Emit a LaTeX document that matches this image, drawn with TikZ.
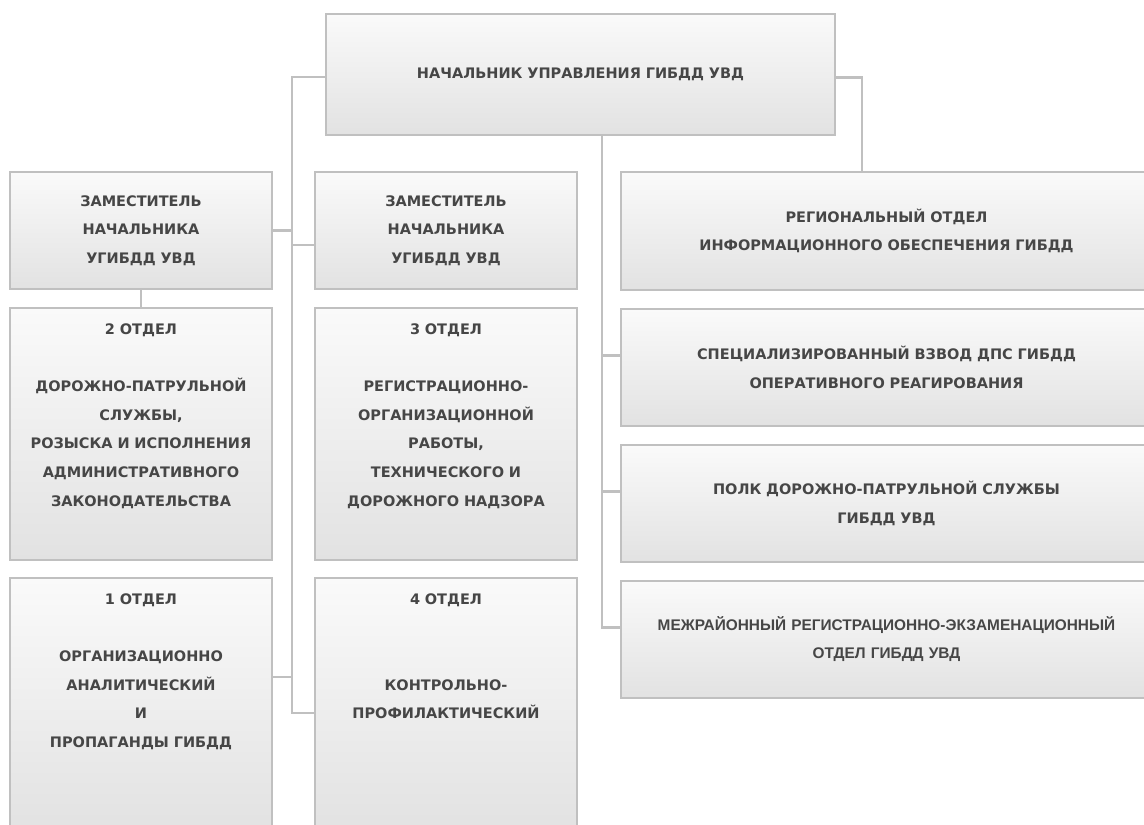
\documentclass[tikz,border=0pt]{standalone}
\usepackage{fontspec}
\setmainfont{DejaVu Sans}
\newfontfamily\arialfont{Liberation Sans Bold}
\usetikzlibrary{positioning}
\usetikzlibrary{calc}
\definecolor{boxtop}{RGB}{250,250,250}
\definecolor{boxbot}{RGB}{226,226,226}
\definecolor{edge}{RGB}{192,192,192}
\definecolor{ink}{RGB}{70,70,70}
\tikzset{
  deptbox/.style={rectangle, draw=edge, line width=2.6pt, top color=boxtop, bottom color=boxbot,
    outer sep=0pt, inner sep=4pt, text=ink, align=center, font=\bfseries\fontsize{14.5}{28.6}\selectfont},
  tallbox/.style={deptbox, minimum width=262pt, text width=254pt, inner ysep=0pt,
    text height=26.5pt, text depth=225.5pt},
  link/.style={draw=edge, line width=2.4pt}
}

\begin{document}
\begin{tikzpicture}
        \useasboundingbox (0,0) rectangle (1144pt,-825pt);
        \fill[white] (0,0) rectangle (1144pt,-825pt);
        \clip (0,0) rectangle (1144pt,-825pt);

        % nodes %
        \node[deptbox, minimum width=509pt, minimum height=121pt, text width=490pt] (chief) at (580.5pt,-74.5pt) {НАЧАЛЬНИК УПРАВЛЕНИЯ ГИБДД УВД};

        \node[deptbox, minimum width=262pt, minimum height=117pt, text width=254pt, anchor=north west] (dep1) at (10pt,-172pt) {ЗАМЕСТИТЕЛЬ\\НАЧАЛЬНИКА\\УГИБДД УВД};
        \node[tallbox, below=19pt of dep1] (otd2) {2 ОТДЕЛ\\[28.6pt]ДОРОЖНО-ПАТРУЛЬНОЙ\\СЛУЖБЫ,\\РОЗЫСКА И ИСПОЛНЕНИЯ\\АДМИНИСТРАТИВНОГО\\ЗАКОНОДАТЕЛЬСТВА};
        \node[tallbox, below=18pt of otd2] (otd1) {1 ОТДЕЛ\\[28.6pt]ОРГАНИЗАЦИОННО\\АНАЛИТИЧЕСКИЙ\\И\\ПРОПАГАНДЫ ГИБДД};

        \node[deptbox, minimum width=262pt, minimum height=117pt, text width=254pt, right=43pt of dep1] (dep2) {ЗАМЕСТИТЕЛЬ\\НАЧАЛЬНИКА\\УГИБДД УВД};
        \node[tallbox, below=19pt of dep2] (otd3) {3 ОТДЕЛ\\[28.6pt]РЕГИСТРАЦИОННО-\\ОРГАНИЗАЦИОННОЙ\\РАБОТЫ,\\ТЕХНИЧЕСКОГО И\\ДОРОЖНОГО НАДЗОРА};
        \node[tallbox, below=18pt of otd3] (otd4) {4 ОТДЕЛ\\[57.2pt]КОНТРОЛЬНО-\\ПРОФИЛАКТИЧЕСКИЙ};

        \node[deptbox, minimum width=531pt, minimum height=118pt, text width=520pt, anchor=north west] (reg) at (621pt,-172pt) {РЕГИОНАЛЬНЫЙ ОТДЕЛ\\ИНФОРМАЦИОННОГО ОБЕСПЕЧЕНИЯ ГИБДД};
        \node[deptbox, minimum width=531pt, minimum height=117pt, text width=520pt, below=19pt of reg] (spec) {СПЕЦИАЛИЗИРОВАННЫЙ ВЗВОД ДПС ГИБДД\\ОПЕРАТИВНОГО РЕАГИРОВАНИЯ};
        \node[deptbox, minimum width=531pt, minimum height=117pt, text width=520pt, below=19pt of spec] (polk) {ПОЛК ДОРОЖНО-ПАТРУЛЬНОЙ СЛУЖБЫ\\ГИБДД УВД};
        \node[deptbox, minimum width=531pt, minimum height=117pt, text width=520pt, below=19pt of polk, font=\arialfont\fontsize{15.4}{28}\selectfont] (mezh) {МЕЖРАЙОННЫЙ РЕГИСТРАЦИОННО-ЭКЗАМЕНАЦИОННЫЙ\\ОТДЕЛ ГИБДД УВД};

        % edges %
        \coordinate (spineL) at (292pt,-713pt);
        \draw[link] ([yshift=-2.5pt]chief.west) -| (spineL) -- (spineL -| otd4.west);
        \draw[link] (dep1.east) -| (spineL);
        \draw[link] ([yshift=-14.5pt]dep2.west) -| (spineL);
        \draw[link] ([yshift=27pt]otd1.east) -| (spineL);
        \draw[link] (dep1.south) -- (otd2.north);

        \draw[link] ([xshift=21.5pt]chief.south) |- ([yshift=12pt]mezh.west);
        \draw[link] ([yshift=12pt]spec.west) -| ([xshift=21.5pt]chief.south);
        \draw[link] ([yshift=12pt]polk.west) -| ([xshift=21.5pt]chief.south);
        \draw[link] ([yshift=-3pt]chief.east) -| ([xshift=-24.5pt]reg.north);
\end{tikzpicture}
\end{document}
